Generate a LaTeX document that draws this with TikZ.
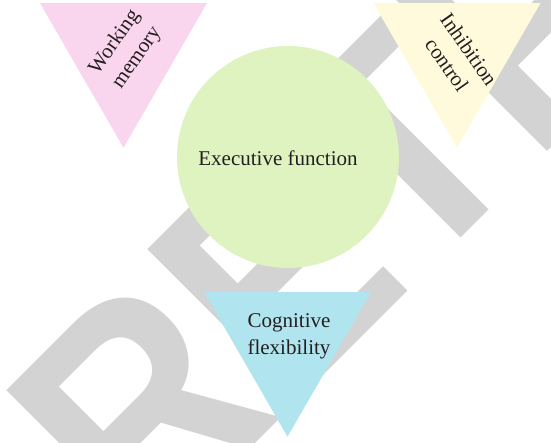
\documentclass[tikz,border=0pt]{standalone}
\usepackage{fontspec}
\usepackage{tikz}
\usetikzlibrary{shapes.geometric}

\setmainfont{Liberation Serif}
\newfontfamily\stampfont{Liberation Sans}

\definecolor{wmpink}{RGB}{249,213,238}
\definecolor{icyellow}{RGB}{255,250,219}
\definecolor{efgreen}{RGB}{223,243,193}
\definecolor{cfcyan}{RGB}{176,228,238}
\definecolor{stampgray}{RGB}{211,211,211}
\definecolor{inkgray}{RGB}{35,31,32}

\begin{document}
\begin{tikzpicture}[x=1pt, y=-1pt,
    tri/.style={regular polygon, regular polygon sides=3, shape border rotate=180,
                minimum size=192.8pt, inner sep=0pt, draw=none},
    lbl/.style={text=inkgray, align=center, inner sep=0pt,
                font=\fontsize{21}{27}\selectfont}]
  \useasboundingbox (0,0) rectangle (551,442);

  % Watermark
  \node[text=stampgray, inner sep=0pt, anchor=base west, rotate=45, xscale=0.89,
        font=\stampfont\bfseries\fontsize{310}{310}\selectfont] (stamp) at (144.5,554.5) {RETRACTED};

  % Executive function
  \node[circle, fill=efgreen, minimum size=222pt, inner sep=0pt] (ef) at (288,157) {};
  \node[lbl] (eflbl) at (278,158) {Executive function};

  % Triangles
  \node[tri, fill=wmpink] (wm) at (123.5,51.3) {};
  \node[tri, fill=icyellow] (ic) at (457,51.3) {};
  \node[tri, fill=cfcyan] (cf) at (287.5,340.3) {};

  % Labels
  \node[lbl, rotate=55] (wmlbl) at (126,50) {Working\\memory};
  \node[lbl, rotate=-55] (iclbl) at (458,57) {Inhibition\\control};
  \node[lbl] (cflbl) at (289,336) {Cognitive\\flexibility};
\end{tikzpicture}
\end{document}
